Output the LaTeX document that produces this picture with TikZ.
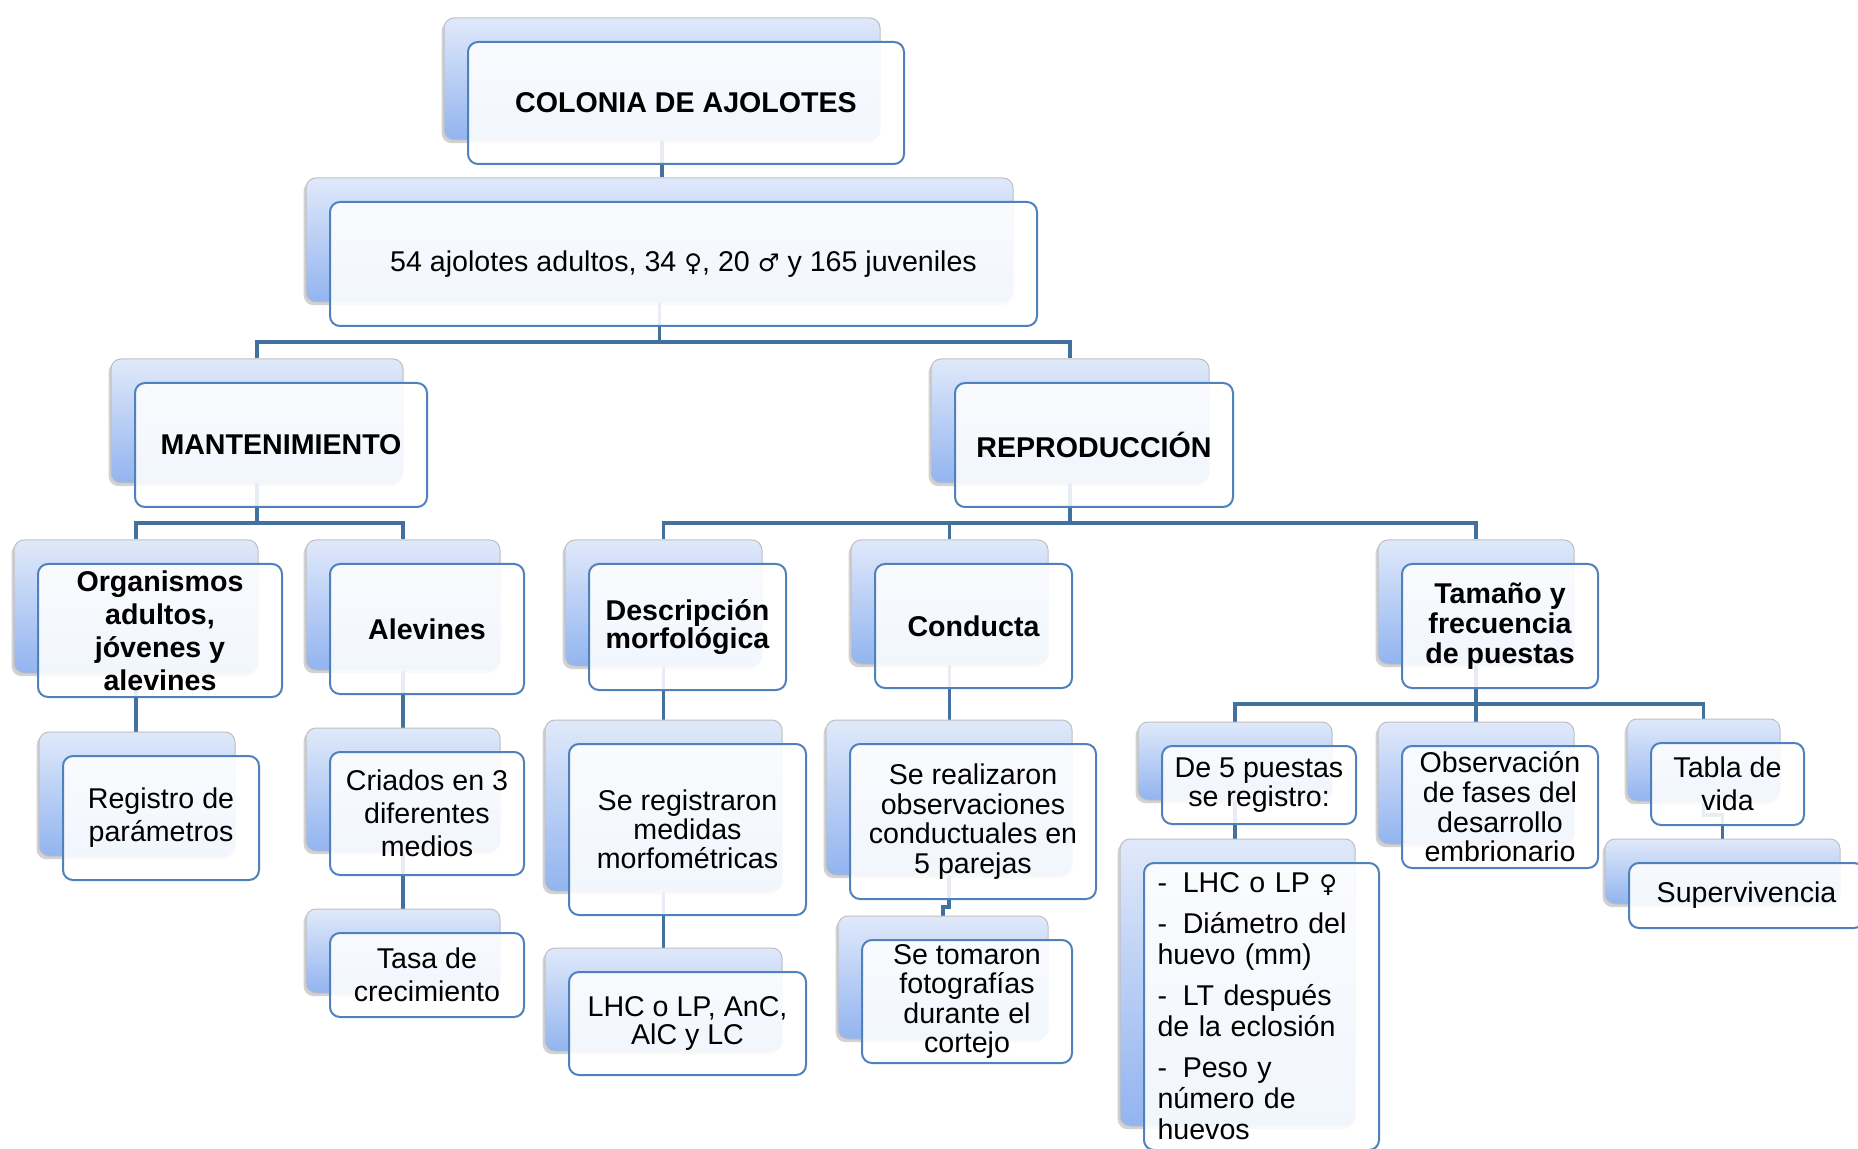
\documentclass[tikz,border=0pt]{standalone}
\usepackage{fontspec}
\setmainfont{Liberation Sans}
\newfontfamily\symf{DejaVu Sans}[Scale=0.85]
\usetikzlibrary{shadows}
\definecolor{edgeblue}{RGB}{79,129,189}
\definecolor{connblue}{RGB}{65,113,156}
\definecolor{backtop}{RGB}{224,233,250}
\definecolor{backbot}{RGB}{146,180,240}
\pgfdeclarelayer{bgl}
\pgfdeclarelayer{connl}
\pgfsetlayers{bgl,connl,main}
\tikzset{
  backbox/.style={rectangle, rounded corners=5pt, top color=backtop, bottom color=backbot,
    draw=gray!50, line width=0.5pt, inner sep=0pt,
    drop shadow={shadow xshift=-1.2pt, shadow yshift=-1.6pt, opacity=0.35}},
  frontbox/.style={rectangle, rounded corners=5pt, draw=edgeblue, line width=1pt,
    fill=white, fill opacity=0.88, text opacity=1, inner sep=0pt, align=center,
    font=\fontsize{14.3}{16.5}\selectfont},
  fs/.style={font=\fontsize{14.3}{#1}\selectfont},
  fs/.default=16.5,
  bfs/.style={font=\fontsize{14.3}{#1}\selectfont\bfseries},
  bfs/.default=16.5,
  conn/.style={draw=connblue, line width=1.6pt},
}
\newcommand\fem{{\symf ♀}}
\newcommand\mal{{\symf ♂}}
\newcommand\pairbox[7]{%
  \node[backbox, minimum width={(#4-#2)*0.5pt}, minimum height={(#5-#3)*0.5pt}]
    (#1-b) at ({(#2+#4)/2},{(#3+#5)/2}) {};
  \node[frontbox, minimum width={(#4-#2)*0.5pt}, minimum height={(#5-#3)*0.5pt}, #6]
    (#1) at ([shift={(24,24)}]#1-b.center) {#7};
}
\begin{document}
\begin{tikzpicture}[x=0.5pt,y=-0.5pt]
\useasboundingbox (0,0) rectangle (1858,1149);
\begin{pgfonlayer}{bgl}
\fill[white] (0,0) rectangle (1858,1149);
\end{pgfonlayer}
\clip (0,0) rectangle (1858,1149);

\pairbox{top}{444}{18}{880}{140}{bfs}{COLONIA DE AJOLOTES}
\pairbox{n2}{306}{178}{1013}{302}{fs}{54 ajolotes adultos, 34 \fem, 20 \mal{} y 165 juveniles}
\pairbox{mant}{111}{359}{403}{483}{bfs}{MANTENIMIENTO}
\pairbox{repro}{931}{359}{1209}{483}{bfs}{REPRODUCCIÓN}
\pairbox{org}{14}{540}{258}{673}{bfs}{Organismos\\adultos,\\jóvenes y\\alevines}
\pairbox{alev}{306}{540}{500}{670}{bfs}{Alevines}
\pairbox{desc}{565}{540}{762}{666}{bfs=14}{Descripción\\morfológica}
\pairbox{cond}{851}{540}{1048}{664}{bfs}{Conducta}
\pairbox{tam}{1378}{540}{1574}{664}{bfs=15}{Tamaño y\\frecuencia\\de puestas}
\pairbox{reg}{39}{732}{235}{856}{fs}{Registro de\\parámetros}
\pairbox{cria}{306}{728}{500}{851}{fs}{Criados en 3\\diferentes\\medios}
\pairbox{tasa}{306}{909}{500}{993}{fs}{Tasa de\\crecimiento}
\pairbox{sereg}{545}{720}{782}{891}{fs=14.5}{Se registraron\\medidas\\morfométricas}
\pairbox{lhc}{545}{948}{782}{1051}{fs=14.2}{LHC o LP, AnC,\\AlC y LC}
\pairbox{serea}{826}{720}{1072}{875}{fs=14.8}{Se realizaron\\observaciones\\conductuales en\\5 parejas}
\pairbox{setom}{838}{916}{1048}{1039}{fs=14.8}{Se tomaron\\fotografías\\durante el\\cortejo}
\pairbox{de5}{1138}{722}{1332}{800}{fs=14.5}{De 5 puestas\\se registro:}
\pairbox{obs}{1378}{722}{1574}{844}{fs=14.8}{Observación\\de fases del\\desarrollo\\embrionario}
\pairbox{tabla}{1627}{719}{1780}{801}{fs}{Tabla de\\vida}
\pairbox{list}{1120}{839}{1355}{1126}{fs=15.5, text width=104pt, align=left}{%
-\hspace{0.55em}LHC o LP \fem\\[5pt]
-\hspace{0.55em}Diámetro del\\huevo (mm)\\[5pt]
-\hspace{0.55em}LT después\\de la eclosión\\[5pt]
-\hspace{0.55em}Peso y\\número de\\huevos}
\pairbox{sup}{1605}{839}{1840}{904}{fs}{Supervivencia}

\begin{pgfonlayer}{connl}
\coordinate (busA) at (0,342);
\coordinate (busB) at (0,523);
\coordinate (busC) at (0,704);
\coordinate (busD) at (0,907);
\coordinate (busE) at (0,815);
\draw[conn] (top-b.south) -- (top-b.south |- n2-b.north);
\draw[conn] (n2-b.south) -- (n2-b.south |- busA) -| (mant-b.north);
\draw[conn] (n2-b.south |- busA) -| (repro-b.north);
\draw[conn] (mant-b.south) -- (mant-b.south |- busB) -| (org-b.north);
\draw[conn] (mant-b.south |- busB) -| (alev-b.north);
\draw[conn] (repro-b.south) -- (repro-b.south |- busB) -| (desc-b.north);
\draw[conn] (repro-b.south |- busB) -| (cond-b.north);
\draw[conn] (repro-b.south |- busB) -| (tam-b.north);
\draw[conn] (org-b.south) -- (org-b.south |- reg-b.north);
\draw[conn] (alev-b.south) -- (alev-b.south |- cria-b.north);
\draw[conn] (cria-b.south) -- (cria-b.south |- tasa-b.north);
\draw[conn] (desc-b.south) -- (desc-b.south |- sereg-b.north);
\draw[conn] (sereg-b.south) -- (sereg-b.south |- lhc-b.north);
\draw[conn] (cond-b.south) -- (cond-b.south |- serea-b.north);
\draw[conn] (serea-b.south) -- (serea-b.south |- busD) -| (setom-b.north);
\draw[conn] (tam-b.south) -- (tam-b.south |- busC) -| (de5-b.north);
\draw[conn] (tam-b.south |- busC) -| (obs-b.north);
\draw[conn] (tam-b.south |- busC) -| (tabla-b.north);
\draw[conn] (de5-b.south) -- (de5-b.south |- list-b.north);
\draw[conn] (tabla-b.south) -- (tabla-b.south |- busE) -| (sup-b.north);
\end{pgfonlayer}
\end{tikzpicture}
\end{document}
